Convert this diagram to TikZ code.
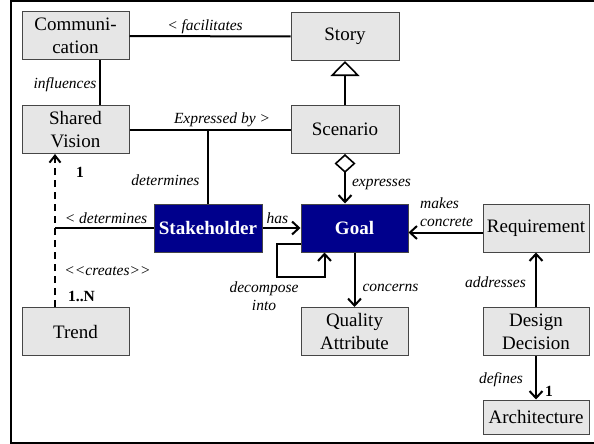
\documentclass[tikz,border=0pt]{standalone}
\usepackage{fontspec}
\setmainfont{LiberationSerif}[Extension=.ttf,UprightFont=*-Regular,BoldFont=*-Bold,ItalicFont=*-Italic,BoldItalicFont=*-BoldItalic]
\usetikzlibrary{arrows.meta,calc}
\definecolor{boxfill}{RGB}{230,230,230}
\definecolor{boxline}{RGB}{70,70,70}
\definecolor{navyfill}{RGB}{0,0,140}
\begin{document}
\begin{tikzpicture}[x=1pt,y=-1pt,
  box/.style={draw=boxline,line width=1pt,fill=boxfill,minimum width=107pt,minimum height=48pt,inner sep=0pt,align=center,font=\fontsize{19}{23}\selectfont},
  keybox/.style={box,fill=navyfill,text=white,font=\fontsize{19}{23}\selectfont\bfseries},
  lab/.style={font=\fontsize{15.5}{18}\selectfont\itshape,inner sep=0pt,align=center},
  card/.style={font=\fontsize{15.5}{18}\selectfont\bfseries,inner sep=0pt},
  conn/.style={line width=2pt},
  arr/.style={conn,-{Straight Barb[length=7pt,width=13pt,line width=2pt]}},
  frame/.style={line width=1.2pt}]
\useasboundingbox (0,0) rectangle (594,444);
\coordinate (ftr) at (594,1);
\coordinate (ftl) at (11,1);
\coordinate (fbl) at (11,443);
\coordinate (fbr) at (594,443);
\draw[frame] (ftr) -- (ftl) -- (fbl) -- (fbr);

\node[box] (comm) at (75.5,36) {Communi-\\cation};
\node[box] (sv) at (75.5,129.5) {Shared\\Vision};
\node[box,minimum width=108pt] (story) at (345,36.5) {Story};
\node[box,minimum width=108pt] (scen) at (345,129.5) {Scenario};
\node[keybox,minimum width=108pt] (stk) at (208,228) {Stakeholder};
\node[keybox] (goal) at (354.5,228) {Goal};
\node[box,minimum width=106pt] (req) at (536,228) {Requirement};
\node[box] (qa) at (354.5,331.5) {Quality\\Attribute};
\node[box,minimum width=106pt] (dd) at (536,331.5) {Design\\Decision};
\node[box,minimum width=106pt,minimum height=34pt] (arch) at (536,417) {Architecture};
\node[box] (trend) at (75.5,331.5) {Trend};

% connectors
\draw[conn] (comm.east) -- (story.west);
\draw[conn] ([xshift=24.5pt]comm.south) -- ([xshift=24.5pt]sv.north);
\draw[conn] (sv.east) -- (scen.west);
\draw[conn] (stk.north) -- (stk.north |- sv.east);
\draw[conn,-{Triangle[open,length=15pt,width=29pt,line width=1.6pt]}] (scen.north) -- (story.south);
\draw[conn,{Diamond[open,length=19pt,width=21pt,line width=1.6pt]}-{Straight Barb[length=7pt,width=13pt,line width=2pt]}] (scen.south) -- (scen.south |- goal.north);
\draw[arr] (stk.east) -- (goal.west);
\draw[arr] ([yshift=-4.5pt]req.west) -- ([yshift=-4.5pt]req.west -| goal.east);
\draw[arr] (goal.south) -- (qa.north);
\draw[arr] (dd.north) -- (req.south);
\draw[arr] (dd.south) -- (arch.north);
\coordinate (lp) at ([xshift=-30pt,yshift=-24pt]goal.south);
\draw[arr] ([yshift=-16pt]goal.west) -- ++(-24,0) |- (lp) -- ([xshift=-30pt]goal.south);
\coordinate (tj) at ([xshift=-20.5pt]trend.north |- stk.west);
\draw[conn,dashed,dash pattern=on 7pt off 5pt,-{Straight Barb[length=7pt,width=11pt,line width=2pt]}] ([xshift=-20.5pt]trend.north) -- ([xshift=-20.5pt]sv.south);
\draw[conn] (stk.west) -- (tj);

% labels
\node[lab] (l1) at (205,27) {< facilitates};
\node[lab] (l2) at (65,85) {influences};
\node[lab] (l3) at (222,120) {Expressed by >};
\node[lab] (l4) at (165.5,180) {determines};
\node[lab] (l5) at (381.5,184) {expresses};
\node[lab] (l6) at (277.5,218) {has};
\node[lab] (l7) at (106,218) {< determines};
\node[lab] (l8) at (107.5,271) {<{}<creates>{}>};
\node[card] (c1) at (81.5,296) {1..N};
\node[card] (c2) at (80,172) {1};
\node[lab] (l9) at (264,296) {decompose\\into};
\node[lab,align=left,anchor=west] (l10) at (420,212.5) {makes\\concrete};
\node[lab] (l11) at (390.5,288) {concerns};
\node[lab] (l12) at (495.5,282) {addresses};
\node[lab] (l13) at (501,380) {defines};
\node[card] (c3) at (549,391) {1};
\end{tikzpicture}
\end{document}
